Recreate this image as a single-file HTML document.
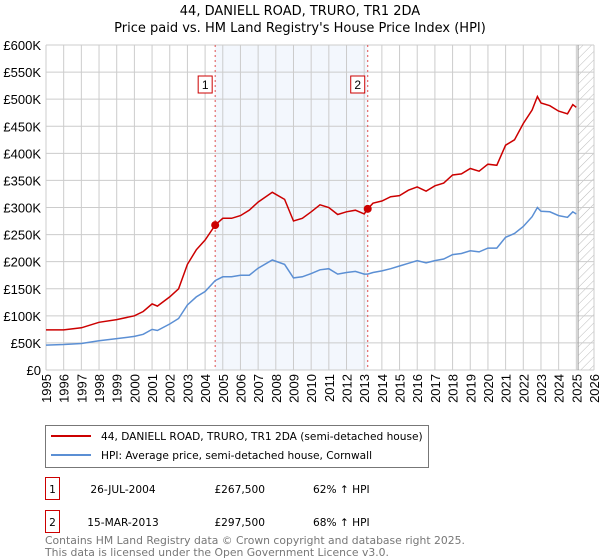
<!DOCTYPE html>
<html><head><meta charset="utf-8"><style>
body{margin:0;background:#fff;font-family:"Liberation Sans","DejaVu Sans",sans-serif;}
#wrap{position:relative;width:600px;height:560px;overflow:hidden}
</style></head><body>
<div id="wrap">
<svg id="chart" width="600" height="560" font-family="Liberation Sans, DejaVu Sans, sans-serif"></svg>
</div>
<script>
const years=[1995,1996,1997,1998,1999,2000,2000.5,2001,2001.3,2002,2002.5,2003,2003.5,2004,2004.57,2005,2005.5,2006,2006.5,2007,2007.8,2008.5,2009,2009.5,2010,2010.5,2011,2011.5,2012,2012.5,2013,2013.2,2013.5,2014,2014.5,2015,2015.5,2016,2016.5,2017,2017.5,2018,2018.5,2019,2019.5,2020,2020.5,2021,2021.5,2022,2022.5,2022.8,2023,2023.5,2024,2024.5,2024.8,2025];
const hpi=[46,47,49,54,58,62,66,75,73,85,95,120,135,145,165,172,172,175,175,188,203,195,170,172,178,185,187,177,180,182,177,177,180,183,187,192,197,202,198,202,205,213,215,220,218,225,225,245,252,265,283,300,293,292,285,282,292,288];
const prop=[74,74,78,88,93,100,108,122,118,135,150,195,222,240,267.5,280,280,285,295,310,328,315,275,280,292,305,300,287,292,295,288,297.5,308,312,320,322,332,338,330,340,345,360,362,372,367,380,378,415,425,455,480,505,493,488,478,473,490,485];
const sales=[{n:"1",t:2004.57,v:267.5},{n:"2",t:2013.2,v:297.5}];
const yTicks=[0,50,100,150,200,250,300,350,400,450,500,550,600];
const xTicks=[1995,1996,1997,1998,1999,2000,2001,2002,2003,2004,2005,2006,2007,2008,2009,2010,2011,2012,2013,2014,2015,2016,2017,2018,2019,2020,2021,2022,2023,2024,2025,2026];
const L=46,R=594,T=45,B=370;
const X=y=>L+(y-1995)/(2026-1995)*(R-L);
const Y=v=>B-v/600*(B-T);
const svg=document.getElementById('chart');
const NS='http://www.w3.org/2000/svg';
const DJ='DejaVu Sans, Liberation Sans, sans-serif';
function mk(tag,at,parent){const e=document.createElementNS(NS,tag);for(const k in at)e.setAttribute(k,at[k]);(parent||svg).appendChild(e);return e;}
function txt(s,at){const e=mk('text',at);e.textContent=s;return e;}
let e;
e=txt('44, DANIELL ROAD, TRURO, TR1 2DA',{x:300,y:15,'text-anchor':'middle','font-size':13,'font-family':DJ});


e=txt("Price paid vs. HM Land Registry's House Price Index (HPI)",{x:300,y:32,'text-anchor':'middle','font-size':13,'font-family':DJ});


e=mk('rect',{x:X(sales[0].t),y:T,width:X(sales[1].t)-X(sales[0].t),height:B-T,fill:'#eef3fc',opacity:0.7});


const defs=mk('defs',{});
const pat=mk('pattern',{id:'hatch',width:6,height:6,patternUnits:'userSpaceOnUse',patternTransform:'rotate(45)'},defs);
mk('line',{x1:0,y1:0,x2:0,y2:6,stroke:'#bbb','stroke-width':1},pat);
e=mk('rect',{x:X(2025.1),y:T,width:R-X(2025.1),height:B-T,fill:'url(#hatch)'});


yTicks.forEach(v=>{
 e=mk('line',{x1:L,x2:R,y1:Y(v),y2:Y(v),stroke:'#ccc','stroke-width':1});
 
 
 e=txt(v===0?'£0':'£'+v+'K',{x:L-5,y:Y(v)+5,'text-anchor':'end','font-size':13});
 
 
});
xTicks.forEach(y=>{
 e=mk('line',{x1:X(y),x2:X(y),y1:T,y2:B,stroke:'#ccc','stroke-width':1});
 
 
 e=txt(String(y),{x:X(y)+5,y:B+4,'text-anchor':'end','font-size':13,transform:`rotate(-90 ${X(y)+5} ${B+4})`});
 
 
});
e=mk('line',{x1:X(2025.1),x2:X(2025.1),y1:T,y2:B,stroke:'#999','stroke-width':1});


sales.forEach(s=>{
 e=mk('line',{x1:X(s.t),x2:X(s.t),y1:T,y2:B,stroke:'#e05050','stroke-width':1,'stroke-dasharray':'2,3'});
 
 
});
const pts=a=>years.map((y,i)=>X(y).toFixed(1)+','+Y(a[i]).toFixed(1)).join(' ');
e=mk('polyline',{points:pts(hpi),fill:'none',stroke:'#5b8fd4','stroke-width':1.5});


e=mk('polyline',{points:pts(prop),fill:'none',stroke:'#cc0000','stroke-width':1.5});


sales.forEach(s=>{
 e=mk('circle',{cx:X(s.t),cy:Y(s.v),r:4,fill:'#cc0000'});
 
 
 e=mk('rect',{x:X(s.t)-17,y:76,width:14,height:17,fill:'#fff',stroke:'#cc0000'});
 
 
 e=txt(s.n,{x:X(s.t)-10,y:89,'text-anchor':'middle','font-size':12});
 
 
});
e=mk('rect',{x:45.5,y:425.5,width:383,height:42,fill:'#fff',stroke:'#777'});


e=mk('line',{x1:51,x2:91,y1:436,y2:436,stroke:'#cc0000','stroke-width':2});


e=txt('44, DANIELL ROAD, TRURO, TR1 2DA (semi-detached house)',{x:101,y:440,'font-size':10.6,'font-family':DJ});


e=mk('line',{x1:51,x2:91,y1:455,y2:455,stroke:'#5b8fd4','stroke-width':2});


e=txt('HPI: Average price, semi-detached house, Cornwall',{x:101,y:459,'font-size':10.6,'font-family':DJ});


const rows=[["1","26-JUL-2004","£267,500","62% ↑ HPI",484],["2","15-MAR-2013","£297,500","68% ↑ HPI",517]];
rows.forEach(r=>{
 e=mk('rect',{x:45.5,y:r[4]-6.5,width:14,height:22,fill:'#fff',stroke:'#cc0000'});
 
 
 e=txt(r[0],{x:52.5,y:r[4]+9,'text-anchor':'middle','font-size':10.6,'font-family':DJ});
 
 
 e=txt(r[1],{x:123,y:r[4]+9,'text-anchor':'middle','font-size':10.6,'font-family':DJ});
 
 
 e=txt(r[2],{x:265,y:r[4]+9,'text-anchor':'end','font-size':10.6,'font-family':DJ});
 
 
 e=txt(r[3],{x:313,y:r[4]+9,'font-size':10.6,'font-family':DJ});
 
 
});
e=txt('Contains HM Land Registry data © Crown copyright and database right 2025.',{x:45,y:544,'font-size':10.8,fill:'#777','font-family':DJ});


e=txt('This data is licensed under the Open Government Licence v3.0.',{x:45,y:556,'font-size':10.8,fill:'#777','font-family':DJ});


</script>
</body></html>
